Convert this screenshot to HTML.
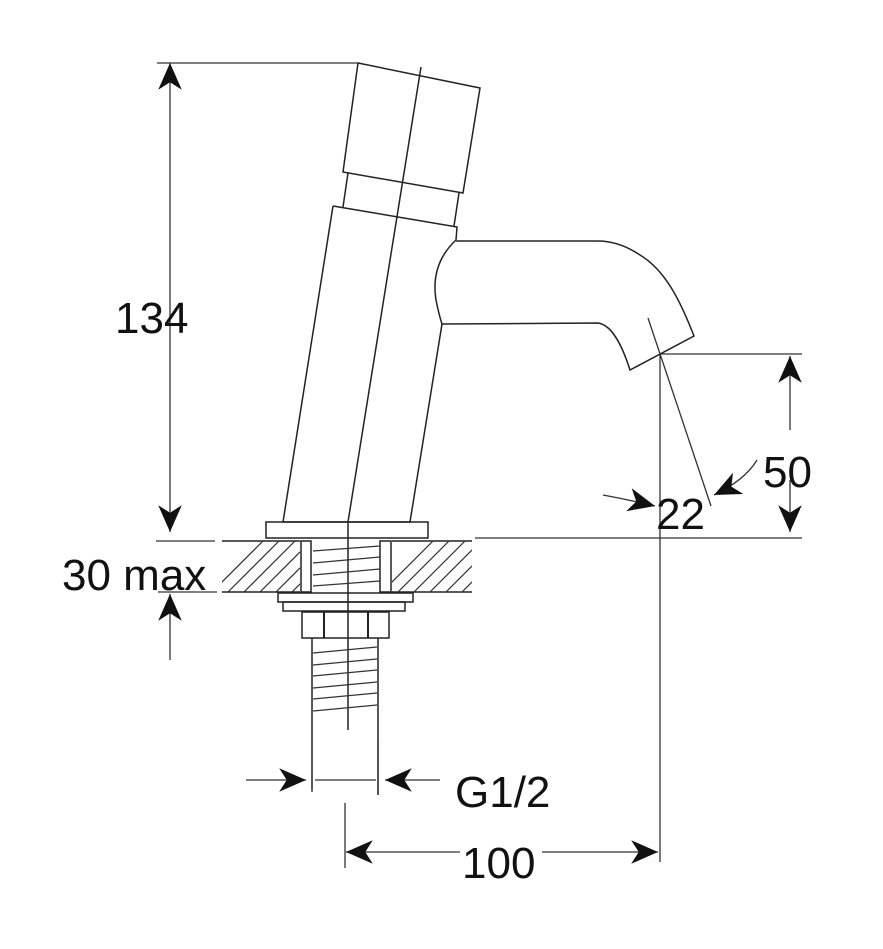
<!DOCTYPE html>
<html><head><meta charset="utf-8"><style>
html,body{margin:0;padding:0;background:#fff}
svg{display:block}
text{font-family:"Liberation Sans",sans-serif;font-size:44px;fill:#111}
</style></head><body>
<svg width="883" height="949" viewBox="0 0 883 949" xmlns="http://www.w3.org/2000/svg">
<defs>
<marker id="a" markerUnits="userSpaceOnUse" markerWidth="30" markerHeight="30" viewBox="-26 -13 28 26" refX="0" refY="0" orient="auto">
<path d="M0,0 L-25,-11 L-18,0 L-25,11 Z" fill="#111"/>
</marker>
<clipPath id="h1"><rect x="222" y="541" width="78" height="51"/></clipPath>
<clipPath id="h2"><rect x="392" y="541" width="80" height="51"/></clipPath>
<clipPath id="h3"><rect x="312" y="541" width="68" height="51"/></clipPath>
</defs>
<g fill="none" stroke="#222" stroke-width="1.5">
<!-- cap -->
<path d="M358,63 L480,88 L463,193 L343,172 Z"/>
<path d="M348,173 L343,207 M459,193 L454,226"/>
<path d="M333,206 L457,227 L456,240"/>
<!-- body -->
<path d="M333,206 L283,522 L410,522 L442,324"/>
<!-- spout -->
<path d="M456,240 C440,255 432,275 436,300 C438,310 440,318 442,324 L598,323 C612,325 622,345 630,370 L694,336 C680,300 665,270 640,255 C625,245 610,241 598,241 L456,241"/>
<!-- center line -->
<path d="M421,67 L348,522 L348,730"/>
<!-- flange -->
<rect x="266" y="522" width="162" height="16"/>
<!-- counter -->
<path d="M222,541 L300,541 M392,541 L472,541 M222,592 L300,592 M392,592 L472,592"/>
<rect x="301" y="541" width="10" height="51"/>
<rect x="380" y="541" width="11" height="51"/>
<rect x="278" y="593" width="135" height="9"/>
<rect x="283" y="602" width="122" height="9"/>
<rect x="302" y="612" width="87" height="26"/>
<path d="M324,612 L324,638 M368,612 L368,638" stroke-width="2"/>
<path d="M312,638 L312,790 M378,638 L378,795"/>
</g>
<g stroke="#333" stroke-width="1.2" fill="none">
<g clip-path="url(#h1)">
<path d="M200,620 L280,540 M216,620 L296,540 M232,620 L312,540 M248,620 L328,540 M264,620 L344,540 M280,620 L360,540 M296,620 L376,540 M184,620 L264,540"/>
</g>
<g clip-path="url(#h2)">
<path d="M370,620 L450,540 M386,620 L466,540 M402,620 L482,540 M418,620 L498,540 M434,620 L514,540 M450,620 L530,540 M466,620 L546,540 M354,620 L434,540"/>
</g>
<path d="M313,551 L380,546 M313,563 L380,557 M313,575 L380,569 M313,586 L380,581"/>
<path d="M313,653 L377,647 M313,665 L377,659 M313,676 L377,670 M313,688 L377,682 M313,699 L377,693 M313,711 L377,705"/>
</g>
<!-- dimensions -->
<g stroke="#333" stroke-width="1.3" fill="none">
<path d="M157,63 L358,63"/>
<path d="M170,300 L170,63" marker-end="url(#a)"/>
<path d="M170,300 L170,532" marker-end="url(#a)"/>
<path d="M156,541 L215,541 M158,592 L217,592"/>
<path d="M170,660 L170,594" marker-end="url(#a)"/>
<path d="M475,538 L802,538"/>
<path d="M660,354 L802,354"/>
<path d="M660,354 L660,862"/>
<path d="M648,318 L711,506"/>
<path d="M790,430 L790,356" marker-end="url(#a)"/>
<path d="M790,480 L790,532" marker-end="url(#a)"/>
<path d="M603,495 Q630,500 655,506" marker-end="url(#a)"/>
<path d="M757,460 Q745,480 714,495" marker-end="url(#a)"/>
<path d="M246,780 L306,780" marker-end="url(#a)"/>
<path d="M440,780 L385,780" marker-end="url(#a)"/>
<path d="M315,780 L376,780"/>
<path d="M312,790 L312,792 M378,740 L378,795"/>
<path d="M345,803 L345,868"/>
<path d="M460,852 L346,852" marker-end="url(#a)"/>
<path d="M542,852 L658,852" marker-end="url(#a)"/>
</g>
<text x="115" y="333">134</text>
<text x="62" y="590">30 max</text>
<text x="455" y="807">G1/2</text>
<text x="462" y="878">100</text>
<text x="763" y="487">50</text>
<text x="656" y="529">22</text>
</svg>
</body></html>
